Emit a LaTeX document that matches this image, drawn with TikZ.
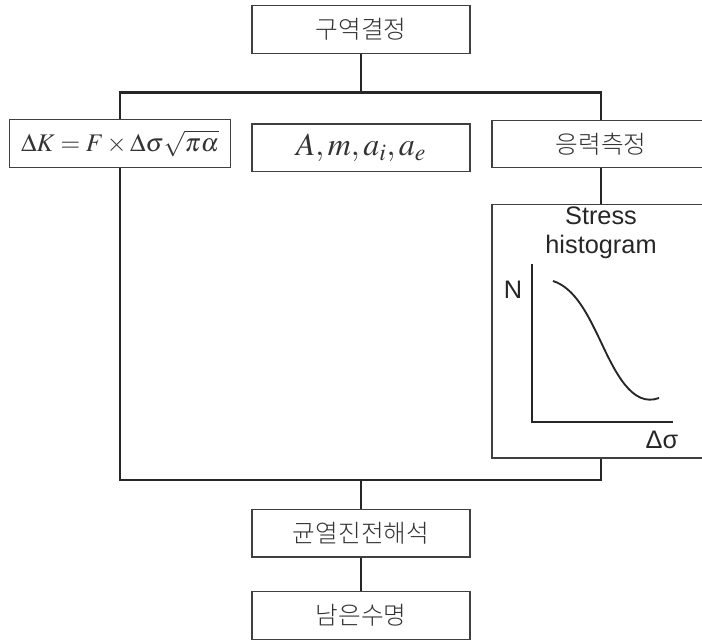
\documentclass[tikz,border=0pt]{standalone}
\usepackage{mathptmx}
\usepackage{fontspec}
\setsansfont{Liberation Sans}
\newfontfamily\kofont{Noto Sans CJK KR Light}
\usetikzlibrary{positioning}

\begin{document}
\begin{tikzpicture}[
    x=0.75pt, y=-0.75pt,
    every node/.style={inner sep=0pt},
    stepbox/.style={
        draw=black!75, line width=1pt,
        minimum width=163.5pt, minimum height=35.6pt,
        font=\kofont\fontsize{18.5pt}{20pt}\selectfont, text=black!80
    },
    mathbox/.style={stepbox, font=\fontsize{19pt}{23pt}\selectfont},
    wire/.style={line width=1.6pt, black!85},
    axis/.style={line width=1.6pt, black!85},
    plabel/.style={font=\sffamily\fontsize{19pt}{22pt}\selectfont, text=black!85, align=center},
]
\clip (0,0) rectangle (702,639);

% ============ top: zone decision ============
\node[stepbox] (zone) at (361,29.5) {구역결정};

% ============ middle row ============
\node[mathbox, minimum width=165.4pt] (dk) at (120,143.5) {$\Delta K = F\times\Delta\sigma\sqrt{\pi\alpha}$};
\node[mathbox, font=\fontsize{24pt}{28pt}\selectfont] (params) at (361,147.7) {$A, m, a_i, a_e$};
\node[stepbox] (meas) at (601,144) {응력측정};

% Stress histogram box
\node[stepbox, minimum height=190.3pt, below=26.5pt of meas] (hist) {};
\node[plabel] (histtitle) at (601,233) {Stress\\histogram};
\node[plabel] (nlabel) at (513,290) {N};
\node[plabel] (slabel) at (662,440) {Δσ};
\draw[axis] (532,264) -- (532,421.7) -- (672.7,421.7);
\draw[line width=1.4pt, black!85]
    (553,281) .. controls (575,288) and (588,315) .. (600,340)
    .. controls (615,372) and (632,408) .. (659,398);

% ============ bottom ============
\node[stepbox] (crack) at (361,533.3) {균열진전해석};
\node[stepbox, below=25pt of crack] (life) {남은수명};

% Connectors
\coordinate (topR) at (601,92.5);
\coordinate (botR) at (601,480);
\draw[wire] (zone.south) -- (zone.south |- topR);
\draw[wire] (dk.north) |- (topR) -- (meas.north);
\draw[wire] (meas.south) -- (hist.north);
\draw[wire] (dk.south) |- (botR) -- (hist.south);
\draw[wire] (crack.north) -- (crack.north |- botR);
\draw[wire] (crack.south) -- (life.north);

\end{tikzpicture}
\end{document}
